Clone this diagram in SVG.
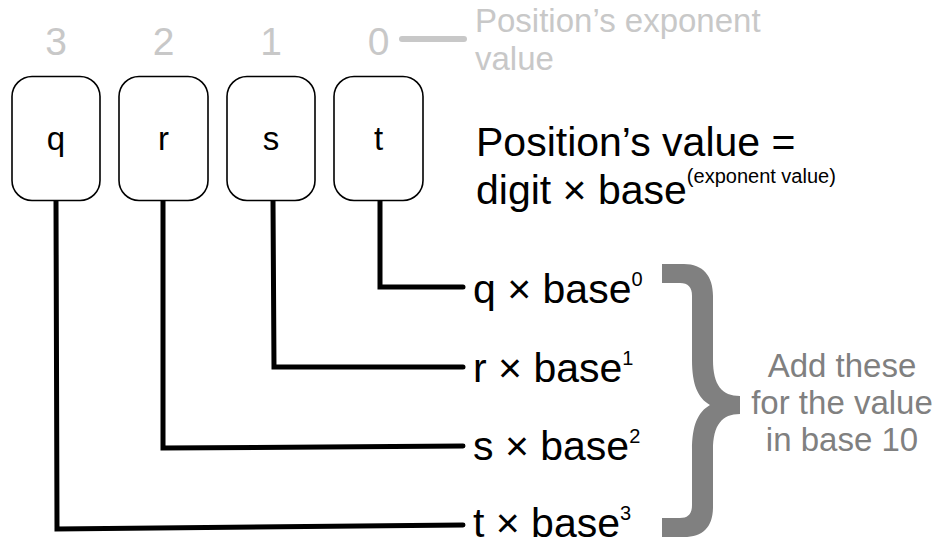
<svg xmlns="http://www.w3.org/2000/svg" width="937" height="546" viewBox="0 0 937 546">
<style>
  text { font-family: "Liberation Sans", Arial, sans-serif; }
  .exp { fill: #c8c8c8; font-size: 39px; text-anchor: middle; }
  .note { fill: #c8c8c8; font-size: 33px; }
  .box { fill: #ffffff; stroke: #000000; stroke-width: 1.6; }
  .digit { fill: #000000; font-size: 33px; text-anchor: middle; }
  .main { fill: #000000; font-size: 41px; }
  .sup { font-size: 20px; }
  .conn { fill: none; stroke: #000000; stroke-width: 5; stroke-linecap: round; stroke-linejoin: miter; }
  .add { fill: #808080; font-size: 33px; text-anchor: middle; }
</style>
<rect width="937" height="546" fill="#ffffff"/>

<g id="exponents">
  <text class="exp" x="56" y="55">3</text>
  <text class="exp" x="163.5" y="55">2</text>
  <text class="exp" x="271" y="55">1</text>
  <text class="exp" x="378.5" y="55">0</text>
  <line x1="402" y1="39" x2="464" y2="39" stroke="#c8c8c8" stroke-width="6" stroke-linecap="round"/>
  <text class="note" x="475" y="32">Position’s exponent</text>
  <text class="note" x="475" y="70">value</text>
</g>

<g id="connectors">
  <path class="conn" d="M380,201 V287 H463"/>
  <path class="conn" d="M273,201 L274,367 H463"/>
  <path class="conn" d="M163,201 V448 L463,446"/>
  <path class="conn" d="M56,201 L57,529 L463,525"/>
</g>

<g id="node-q">
  <rect class="box" x="12" y="76.5" width="88" height="124" rx="20"/>
  <text class="digit" x="56" y="150">q</text>
</g>
<g id="node-r">
  <rect class="box" x="119" y="76.5" width="89" height="124" rx="20"/>
  <text class="digit" x="163.5" y="150">r</text>
</g>
<g id="node-s">
  <rect class="box" x="227" y="76.5" width="88" height="124" rx="20"/>
  <text class="digit" x="271" y="150">s</text>
</g>
<g id="node-t">
  <rect class="box" x="334" y="76.5" width="89" height="124" rx="20"/>
  <text class="digit" x="378.5" y="150">t</text>
</g>

<g id="formula">
  <text class="main" x="476" y="156">Position’s value =</text>
  <text class="main" x="476" y="204">digit × base<tspan class="sup" dy="-21">(exponent value)</tspan></text>
</g>

<g id="term-0">
  <text class="main" x="473" y="303">q × base<tspan class="sup" dy="-17">0</tspan></text>
</g>
<g id="term-1">
  <text class="main" x="473" y="382">r × base<tspan class="sup" dy="-17">1</tspan></text>
</g>
<g id="term-2">
  <text class="main" x="473" y="460">s × base<tspan class="sup" dy="-17">2</tspan></text>
</g>
<g id="term-3">
  <text class="main" x="473" y="537">t × base<tspan class="sup" dy="-17">3</tspan></text>
</g>

<g id="brace">
  <path fill="#808080" d="M662,264 H684 C703,264 713,276 713,296 V360 C713,385 722,396 740,396 V414 C722,414 713,425 713,450 V507 C713,527 703,537 684,537 H662 V518 H680 C688,518 692,514 692,505 V450 C692,425 698,412 710,405 C698,398 692,385 692,360 V296 C692,287 688,283 680,283 H662 Z"/>
</g>

<g id="sum-note">
  <text class="add" x="842" y="377">Add these</text>
  <text class="add" x="842" y="414">for the value</text>
  <text class="add" x="842" y="451">in base 10</text>
</g>
</svg>
